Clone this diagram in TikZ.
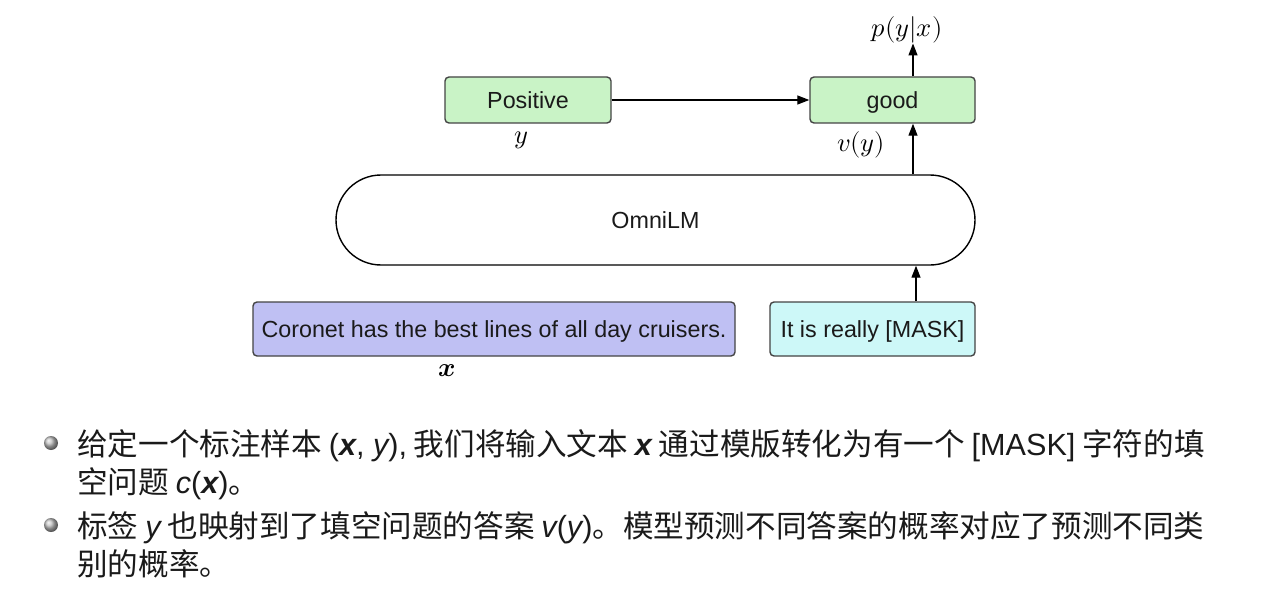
\documentclass[tikz,border=0pt]{standalone}
\usepackage{fontspec}
\usepackage{unicode-math}
\setmathfont{Latin Modern Math}
\setmainfont{Liberation Sans}
\newfontfamily\cjk{Noto Sans CJK SC}
\newfontfamily\latf{Liberation Sans}
\usetikzlibrary{arrows.meta,shadings}
\definecolor{boxgreen}{HTML}{C9F3C6}
\definecolor{boxlav}{HTML}{BFC0F3}
\definecolor{boxcyan}{HTML}{CDF8F8}
\definecolor{edgegray}{HTML}{444444}
\definecolor{txt}{HTML}{1A1A1A}
\tikzset{
  box/.style={draw=edgegray, line width=1.4pt, rounded corners=4pt, minimum height=46pt, inner sep=0pt, text height=18.5pt, text depth=2pt, font=\fontsize{23.3}{27}\selectfont, text=txt},
  arr/.style={-{Triangle[length=12pt,width=9pt]}, line width=1.3pt, draw=black},
  mlabel/.style={font=\fontsize{26.5}{30}\selectfont, inner sep=0pt},
  cline/.style={anchor=base west, inner sep=0pt, font=\cjk\fontsize{30.6}{36}\selectfont, text=txt},
  bulletball/.style={ball color=gray!50}
}
\newcommand{\ix}{{\latf\bfseries\itshape x}}
\newcommand{\iy}{{\latf\itshape y}}
\begin{document}
\begin{tikzpicture}[x=1pt,y=-1pt]
\useasboundingbox[fill=white] (0,0) rectangle (1266,607);
% boxes
\node[box, fill=boxgreen, minimum width=166pt] (pos) at (528,100) {Positive};
\node[box, fill=boxgreen, minimum width=165pt] (good) at (892.5,100) {good};
\node[draw=black, line width=1.4pt, rounded corners=45pt, minimum width=639pt, minimum height=90pt, inner sep=0pt, text height=18.5pt, text depth=2pt, font=\fontsize{23.3}{27}\selectfont, text=txt] (omni) at (655.5,220) {OmniLM};
\node[box, fill=boxlav, minimum width=482pt, minimum height=54pt] (cor) at (494,329) {Coronet has the best lines of all day cruisers.};
\node[box, fill=boxcyan, minimum width=205pt, minimum height=54pt] (mask) at (872.5,329) {It is really [MASK]};
% labels
\node[mlabel] (ylab) at (521,140) {$y$};
\node[mlabel] (vy) at (861,145) {$v(y)$};
\node[mlabel] (pyx) at (907,30) {$p(y|x)$};
\node[mlabel] (xlab) at (447,371) {$\symbfit{x}$};
% connectors
\coordinate (col) at (913,0);
\coordinate (col2) at (916,0);
\draw[arr] (pos) -- (good);
\draw[arr] (good.north -| col) -- (pyx.south -| col);
\draw[arr] (omni.north -| col) -- (good.south -| col);
\draw[arr] (mask.north -| col2) -- (omni.south -| col2);
% bullets
\shade[bulletball] (51,443) circle (7pt);
\shade[bulletball] (51,525) circle (7pt);
\node[cline] (l1) at (77,455) {给定一个标注样本 {\latf(\ix, \iy),} 我们将输入文本 \ix\ 通过模版转化为有一个 {\latf[MASK]} 字符的填};
\node[cline] (l2) at (77,493) {空问题 {\latf\itshape c}{\latf(\ix)}。};
\node[cline] (l3) at (77,537) {标签 \iy\ 也映射到了填空问题的答案 {\latf\itshape v}{\latf(\iy)}。模型预测不同答案的概率对应了预测不同类};
\node[cline] (l4) at (77,575) {别的概率。};
\end{tikzpicture}
\end{document}
